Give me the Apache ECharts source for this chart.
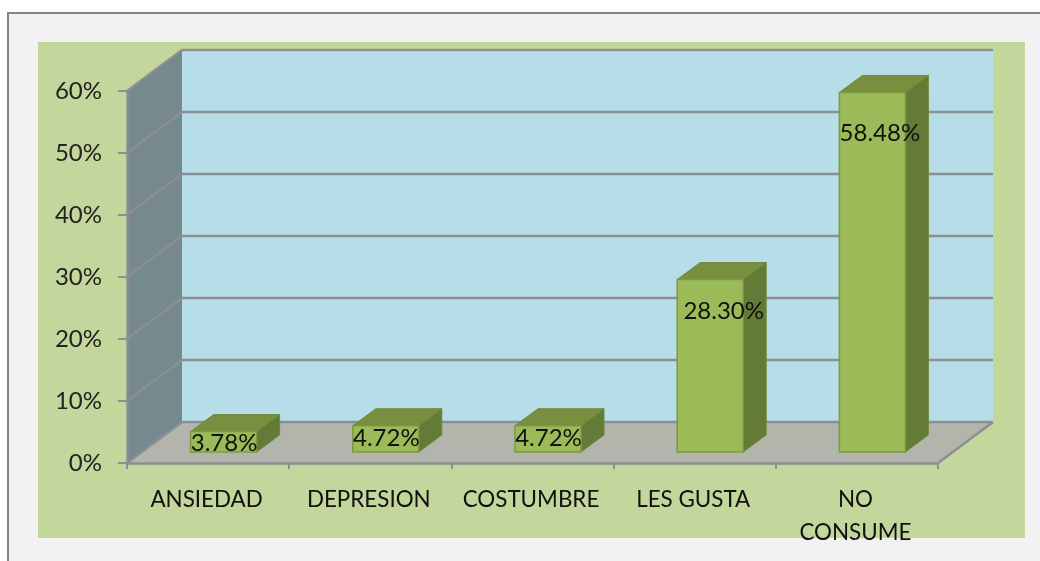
<!DOCTYPE html>
<html><head><meta charset="utf-8">
<style>html,body{margin:0;padding:0;background:#fff}#c{width:1040px;height:561px}</style>
<script src="https://cdn.jsdelivr.net/npm/echarts@6/dist/echarts.min.js"></script>
</head><body><div id="c"></div>
<script>
const categories = ['ANSIEDAD', 'DEPRESION', 'COSTUMBRE', 'LES GUSTA', 'NO\nCONSUME'];
const values = [3.78, 4.72, 4.72, 28.30, 58.48];
const valueLabels = ['3.78%', '4.72%', '4.72%', '28.30%', '58.48%'];
const gridTicks = [0, 10, 20, 30, 40, 50, 60];

// drawing style
const depth = {x: 55, y: 41};
const barDepth = {x: 23, y: 17};
const barLift = {base: 11, top: 8, shift: 15.5, width: 66};
const labelNudge = [[0.5, 0], [0.5, 0], [0.5, 0], [13.5, 0], [7.5, 0]];
const labelY = [443, 438, 438, 311, 133];
const font = 'Lato, Carlito, sans-serif';

const chart = echarts.init(document.getElementById('c'));

function poly(points, fill, stroke, lw) {
  return {type: 'polygon', shape: {points}, style: {fill, stroke: stroke || null, lineWidth: lw || 0}};
}
function line(x1, y1, x2, y2) {
  return {type: 'line', shape: {x1, y1, x2, y2}, style: {stroke: '#8b8f93', lineWidth: 2.5}};
}
function renderWalls(params, api) {
  const g = params.coordSys;
  const L = g.x, R = g.x + g.width, dx = depth.x, dy = depth.y;
  const y0 = api.coord([0, 0])[1], yTop = api.coord([0, 60])[1];
  const kids = [
    poly([[L + dx, yTop - dy], [R + dx, yTop - dy], [R + dx, y0 - dy], [L + dx, y0 - dy]], '#b7dee8'),
    poly([[L, yTop], [L + dx, yTop - dy], [L + dx, y0 - dy], [L, y0]], '#76898f'),
    poly([[L, y0], [R, y0], [R + dx, y0 - dy], [L + dx, y0 - dy]], '#b3b5ac')
  ];
  gridTicks.forEach(t => {
    const y = api.coord([0, t])[1];
    kids.push(line(L, y, L + dx, y - dy));
    kids.push(line(L + dx, y - dy, R + dx, y - dy));
  });
  kids.push(line(R, y0, R + dx, y0 - dy));
  return {type: 'group', children: kids};
}
function renderBar(params, api) {
  const i = api.value(0), v = api.value(1);
  const cx = api.coord([i, 0])[0] + barLift.shift;
  const yb = api.coord([i, 0])[1] - barLift.base;
  const yt = api.coord([i, v])[1] - barLift.top;
  const l = cx - barLift.width / 2, r = cx + barLift.width / 2;
  const dx = barDepth.x, dy = barDepth.y;
  const edge = '#7d9a41';
  return {type: 'group', children: [
    poly([[r, yt], [r + dx, yt - dy], [r + dx, yb - dy], [r, yb]], '#647a37', '#6f8a3a', 1),
    poly([[l, yt], [l + dx, yt - dy], [r + dx, yt - dy], [r, yt]], '#778f3f', '#6f8a3a', 1),
    poly([[l, yt], [r, yt], [r, yb], [l, yb]], '#9bbb59', edge, 1.5),
    {type: 'text', style: {
      text: valueLabels[i], x: cx + labelNudge[i][0], y: labelY[i],
      align: 'center', verticalAlign: 'middle',
      font: '24px ' + font, fill: '#111'
    }}
  ]};
}

chart.setOption({
  animation: false,
  backgroundColor: '#fff',
  graphic: [
    {type: 'rect', z: -10, shape: {x: 8, y: 13, width: 1100, height: 600},
     style: {fill: '#f2f2f2', stroke: '#858585', lineWidth: 2}},
    {type: 'rect', z: -9, shape: {x: 38, y: 42, width: 987, height: 496},
     style: {fill: '#c3d69b'}}
  ],
  grid: {left: 127, right: 102, top: 91, bottom: 98, containLabel: false},
  xAxis: {
    type: 'category', data: categories,
    axisLine: {show: true, lineStyle: {color: '#8b8f93', width: 2.5}},
    axisTick: {show: true, length: 6, alignWithLabel: false, lineStyle: {color: '#8b8f93', width: 2}},
    axisLabel: {color: '#111', fontFamily: font, fontSize: 22.4, margin: 20, lineHeight: 33, interval: 0, padding: [0, 3, 0, 0]},
    splitLine: {show: false}, z: 5
  },
  yAxis: {
    type: 'value', min: 0, max: 60, interval: 10,
    axisLine: {show: true, lineStyle: {color: '#8b8f93', width: 2.5}},
    axisTick: {show: true, length: 9, lineStyle: {color: '#8b8f93', width: 2}},
    axisLabel: {color: '#222', fontFamily: font, fontSize: 24, margin: 25, padding: [4, 0, 0, 0], formatter: '{value}%'},
    splitLine: {show: false}, z: 5
  },
  tooltip: {show: false},
  series: [
    {type: 'custom', name: 'walls', silent: true, z: 1, renderItem: renderWalls, data: [[0, 0]], encode: {x: 0, y: 1}},
    {type: 'custom', name: 'bars', silent: true, z: 10, renderItem: renderBar,
     data: values.map((v, i) => [i, v]), encode: {x: 0, y: 1}}
  ]
});
</script></body></html>
